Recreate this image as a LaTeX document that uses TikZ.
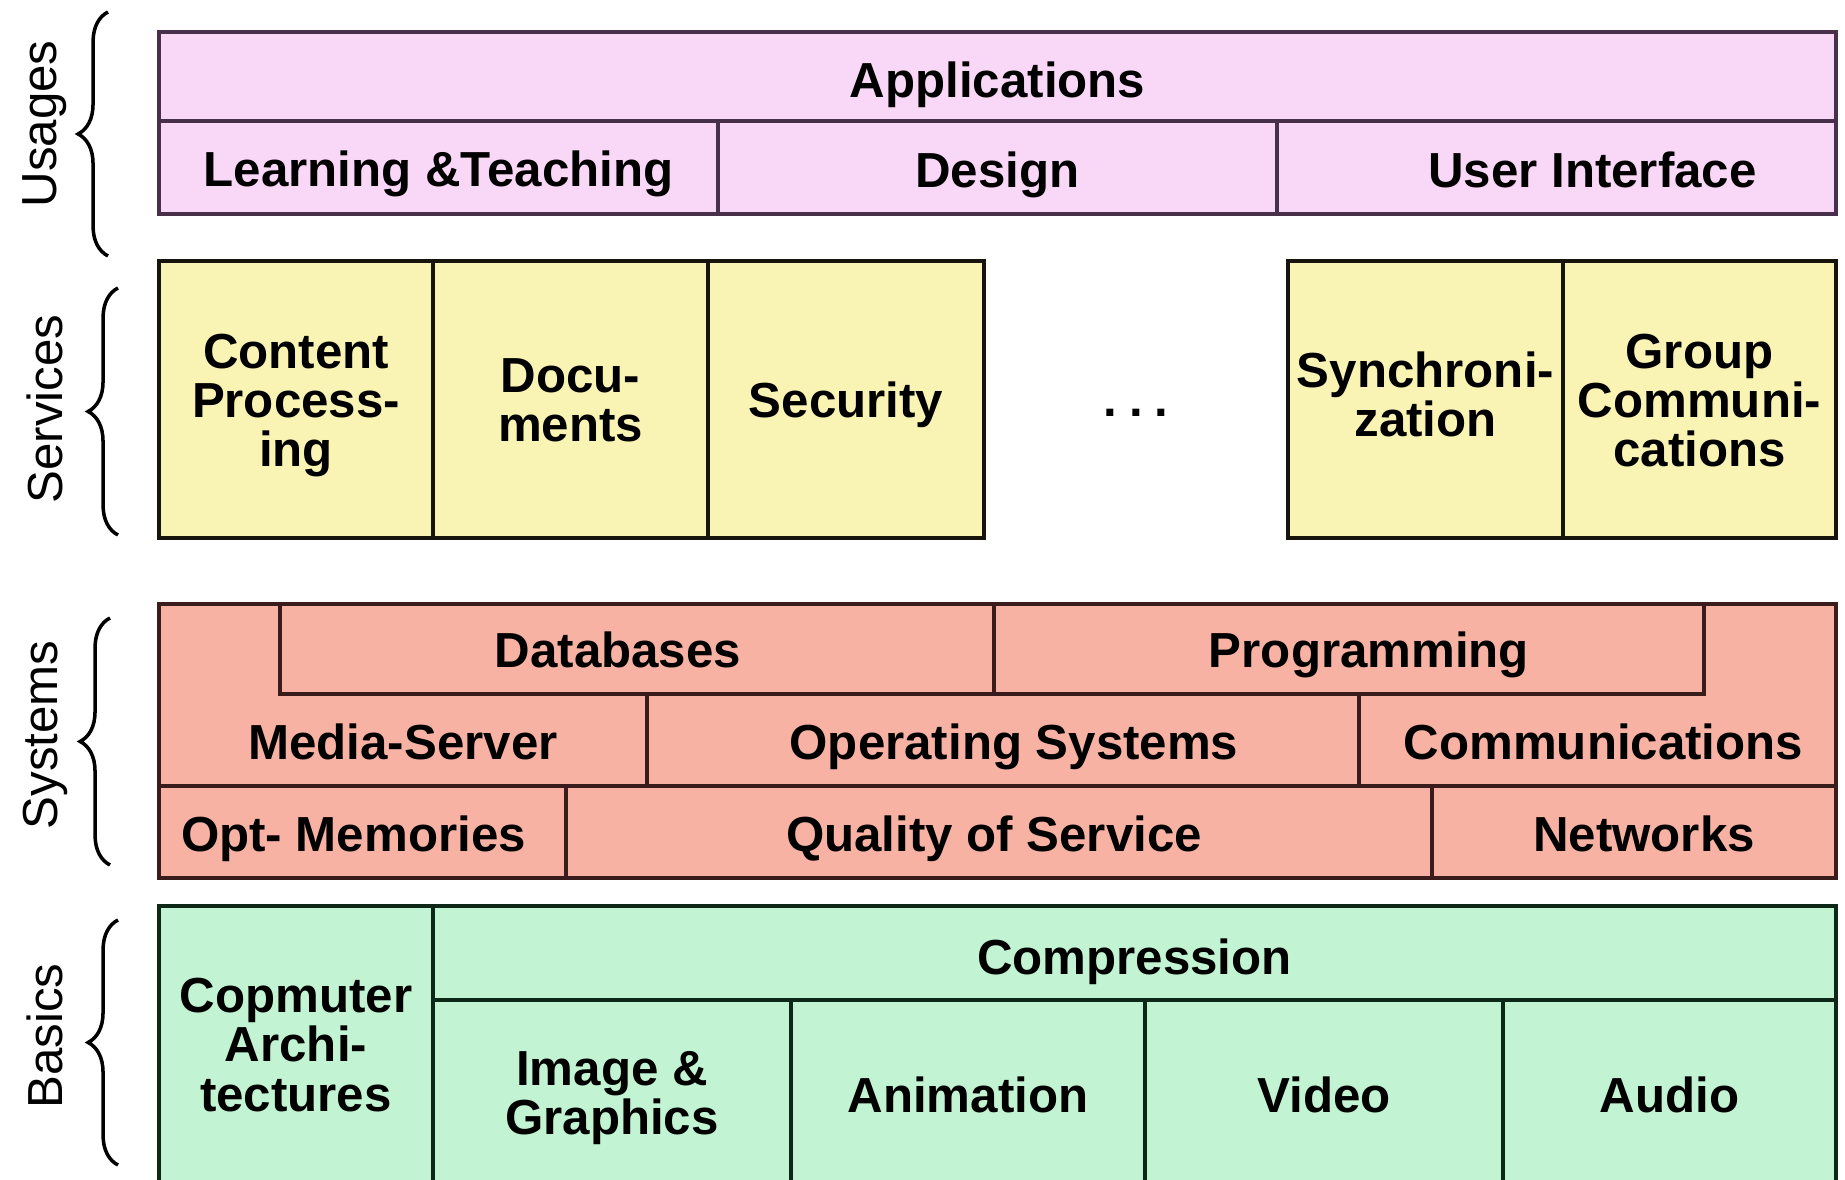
\documentclass[tikz,border=0pt]{standalone}
\usepackage{fontspec}
\setmainfont{Liberation Sans}
\usetikzlibrary{fit,decorations.pathreplacing}

\definecolor{usagefill}{RGB}{249,215,246}
\definecolor{usageline}{RGB}{72,48,74}
\definecolor{servfill}{RGB}{250,244,180}
\definecolor{servline}{RGB}{22,20,12}
\definecolor{sysfill}{RGB}{248,178,164}
\definecolor{sysline}{RGB}{58,28,28}
\definecolor{basicfill}{RGB}{194,243,210}
\definecolor{basicline}{RGB}{14,40,24}

\tikzset{
  layercell/.style={draw=#1, line width=1.3pt, inner sep=0pt, outer sep=0pt},
  usagecell/.style={layercell=usageline, fill=usagefill},
  servcell/.style={layercell=servline, fill=servfill},
  syscell/.style={layercell=sysline, fill=sysfill},
  basiccell/.style={layercell=basicline, fill=basicfill},
  textcell/.style={inner sep=0pt, outer sep=0pt},
  celltext/.style={font=\fontsize{14}{14}\selectfont\bfseries, align=center, inner sep=0pt},
  layername/.style={font=\fontsize{14}{14}\selectfont, rotate=90},
  layerbrace/.style={decorate, decoration={brace, amplitude=8.5pt}, line width=1pt}
}

\begin{document}
\begin{tikzpicture}[x=0.01cm, y=-0.01cm]
  \useasboundingbox (0,0) rectangle (1845,1180);

  % usages
  \foreach \nm/\xa/\ya/\xb/\yb/\dx/\dy/\txt in {
      apps/159/32/1836/121/0/8/Applications,
      learn/159/121/718/214/0/6/Learning \&Teaching,
      design/718/121/1277/214/0/7/Design,
      ui/1277/121/1836/214/36/2/User Interface}
    \node[usagecell, fit={(\xa,\ya) (\xb,\yb)},
      label={[celltext, xshift=\dx*0.01cm, yshift=-\dy*0.01cm]center:\txt}] (\nm) {};

  % services
  \foreach \nm/\xa/\ya/\xb/\yb/\dx/\dy/\txt in {
      content/159/261/433/538/0/6/{Content\\Process-\\ing},
      docs/433/261/708/538/0/1/{Docu-\\ments},
      security/708/261/984/538/0/5/Security,
      sync/1288/261/1563/538/0/-5/{Synchroni-\\zation},
      group/1563/261/1836/538/0/1/{Group\\Communi-\\cations}}
    \node[servcell, fit={(\xa,\ya) (\xb,\yb)},
      label={[celltext, xshift=\dx*0.01cm, yshift=-\dy*0.01cm]center:\txt}] (\nm) {};
  \node[celltext] (more) at (1136,413) {.\hspace{0.12cm}.\hspace{0.12cm}.};

  % systems
  \node[syscell, fit={(159,604) (1836,878)}] (sys) {};
  \foreach \nm/\xa/\ya/\xb/\yb/\dx/\dy/\txt in {
      db/280/604/994/694/-19/1/Databases,
      prog/994/604/1704/694/20/6/Programming}
    \node[syscell, fit={(\xa,\ya) (\xb,\yb)},
      label={[celltext, xshift=\dx*0.01cm, yshift=-\dy*0.01cm]center:\txt}] (\nm) {};
  \foreach \nm/\xa/\ya/\xb/\yb/\dx/\dy/\txt in {
      media/159/694/647/786/0/2/Media-Server,
      opsys/647/694/1359/786/11/7/Operating Systems,
      comm/1359/694/1836/786/6/2/Communications,
      optmem/159/786/566/878/-9/7/Opt- Memories,
      qos/566/786/1432/878/-5/7/Quality of Service,
      net/1432/786/1836/878/10/2/Networks}
    \node[textcell, fit={(\xa,\ya) (\xb,\yb)},
      label={[celltext, xshift=\dx*0.01cm, yshift=-\dy*0.01cm]center:\txt}] (\nm) {};
  \begin{scope}[draw=sysline, line width=1.3pt]
    \draw (media.north east) -- (media.south east);
    \draw (opsys.north east) -- (opsys.south east);
    \draw (media.south west) -- (comm.south east);
    \draw (optmem.north east) -- (optmem.south east);
    \draw (qos.north east) -- (qos.south east);
  \end{scope}

  % basics (runs off the lower edge)
  \foreach \nm/\xa/\ya/\xb/\yb/\dx/\dy/\txt in {
      arch/159/906/433/1190/0/-3/{Copmuter\\Archi-\\tectures},
      compr/433/906/1836/1000/0/9/Compression,
      image/433/1000/791/1190/0/3/{Image \&\\Graphics},
      anim/791/1000/1145/1190/0/0/Animation,
      video/1145/1000/1503/1190/0/0/Video,
      audio/1503/1000/1836/1190/0/0/Audio}
    \node[basiccell, fit={(\xa,\ya) (\xb,\yb)},
      label={[celltext, xshift=\dx*0.01cm, yshift=-\dy*0.01cm]center:\txt}] (\nm) {};

  % layer names and braces
  \node[layername] (usages) at (45,124) {Usages};
  \node[layername] (services) at (45,409) {Services};
  \node[layername] (systems) at (45,735) {Systems};
  \node[layername] (basics) at (45,1036) {Basics};
  \draw[layerbrace] (108,256) -- (108,12);
  \draw[layerbrace] (118,535) -- (118,288);
  \draw[layerbrace] (110,865) -- (110,618);
  \draw[layerbrace] (118,1165) -- (118,920);
\end{tikzpicture}
\end{document}
